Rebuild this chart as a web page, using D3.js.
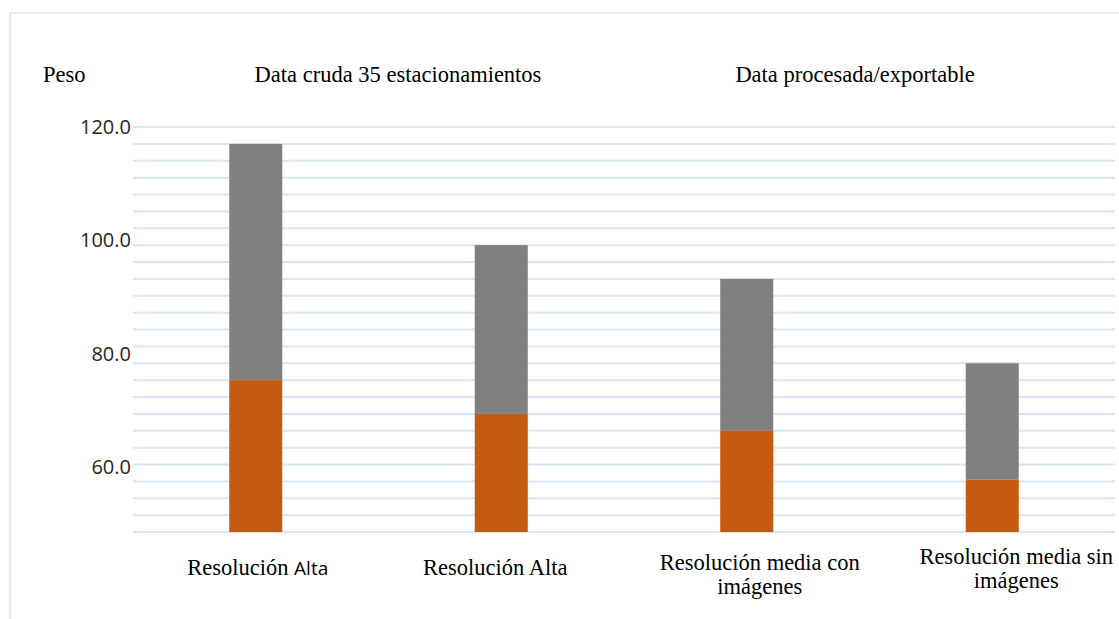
<!DOCTYPE html>
<html>
<head>
<meta charset="utf-8">
<script src="https://cdn.jsdelivr.net/npm/d3@7"></script>
<style>
  body { margin: 0; background: #fff; }
  svg { display: block; }
</style>
</head>
<body>
<svg id="chart" width="1119" height="619"></svg>
<script>
// Data
const categories = [
  'Resolución Alta',
  'Resolución Alta ',
  'Resolución media con imágenes',
  'Resolución media sin imágenes',
];
const procesada = [75, 69, 66, 57.3]; // orange part (bottom)
const cruda = [42, 30, 27, 20.7]; // grey part stacked on top
const yTicks = [60, 80, 100, 120];
const titles = ['Data cruda 35 estacionamientos', 'Data procesada/exportable'];

const serif = '"Liberation Serif", "Times New Roman", serif';
const sans = '"Open Sans", "Noto Sans", sans-serif';

const svg = d3.select('#chart');

// light frame around the chart area
svg
  .append('rect')
  .attr('x', 10)
  .attr('y', 13)
  .attr('width', 1200)
  .attr('height', 700)
  .attr('fill', 'none')
  .attr('stroke', '#dde8f5')
  .attr('stroke-width', 1.5);

const plot = { left: 133, right: 1115, top: 127, bottom: 532 };

const x = d3
  .scaleBand()
  .domain(categories)
  .range([plot.left, plot.right])
  .paddingInner(0.784)
  .paddingOuter(0.392);

const y = d3.scaleLinear().domain([48, 120]).range([plot.bottom, plot.top]);

// gridlines every 3 units
svg
  .append('g')
  .selectAll('line')
  .data(d3.range(48, 121, 3))
  .join('line')
  .attr('x1', plot.left)
  .attr('x2', plot.right)
  .attr('y1', (d) => y(d))
  .attr('y2', (d) => y(d))
  .attr('stroke', '#dce6f3')
  .attr('stroke-width', 2);

// y tick labels
svg
  .append('g')
  .selectAll('text')
  .data(yTicks)
  .join('text')
  .attr('x', 131)
  .attr('y', (d) => y(d) + 7 + (120 - d) * 0.04)
  .attr('text-anchor', 'end')
  .attr('font-family', sans)
  .attr('font-size', 20)
  .attr('fill', '#262626')
  .text((d) => d.toFixed(1));

// stacked bars
const rows = categories.map((c, i) => ({ c, a: procesada[i], b: cruda[i] }));

const bars = svg.append('g');
bars
  .selectAll('rect.gris')
  .data(rows)
  .join('rect')
  .attr('class', 'gris')
  .attr('x', (d) => x(d.c))
  .attr('width', x.bandwidth())
  .attr('y', (d) => y(d.a + d.b))
  .attr('height', (d) => y(d.a) - y(d.a + d.b))
  .attr('fill', '#808080');

bars
  .selectAll('rect.naranja')
  .data(rows)
  .join('rect')
  .attr('class', 'naranja')
  .attr('x', (d) => x(d.c))
  .attr('width', x.bandwidth())
  .attr('y', (d) => y(d.a))
  .attr('height', (d) => plot.bottom - y(d.a))
  .attr('fill', '#c55a11');

// titles
svg
  .append('text')
  .attr('x', 43)
  .attr('y', 82)
  .attr('font-family', serif)
  .attr('font-size', 22.5)
  .attr('fill', '#000')
  .text('Peso');

svg
  .selectAll('text.titulo')
  .data(titles)
  .join('text')
  .attr('class', 'titulo')
  .attr('x', (d, i) => [398, 855][i])
  .attr('y', 82)
  .attr('text-anchor', 'middle')
  .attr('font-family', serif)
  .attr('font-size', 22.5)
  .attr('fill', '#000')
  .text((d) => d);

// category labels (slightly nudged like the original)
const labelShift = [2, -6, 13, 24];
const labelY = [575, 575, 570, 564];
const labelGroup = svg.append('g');

categories.forEach((c, i) => {
  const t = labelGroup
    .append('text')
    .attr('x', x(c) + x.bandwidth() / 2 + labelShift[i])
    .attr('y', labelY[i])
    .attr('text-anchor', 'middle')
    .attr('font-family', serif)
    .attr('font-size', 22.5)
    .attr('fill', '#000');
  if (i === 0) {
    t.append('tspan').text('Resolución ');
    t.append('tspan').attr('font-family', sans).attr('font-size', 19).text('Alta');
  } else if (i === 1) {
    t.text(c.trim());
  } else {
    const words = c.split(' ');
    t.append('tspan').text(words.slice(0, 3).join(' '));
    t.append('tspan')
      .attr('x', x(c) + x.bandwidth() / 2 + labelShift[i])
      .attr('dy', 24)
      .text(words.slice(3).join(' '));
  }
});
</script>
</body>
</html>
